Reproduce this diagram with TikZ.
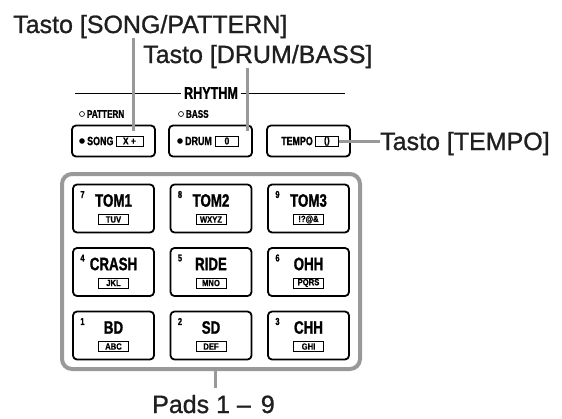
\documentclass[tikz,border=0pt]{standalone}
\usepackage{fontspec}
\setmainfont{Liberation Sans}
\newfontfamily\calloutfont[FakeBold=1]{Liberation Sans}
\newfontfamily\panelfont[FakeStretch=0.74,FakeBold=1.2]{Liberation Sans}
\newfontfamily\keyfont[FakeStretch=0.85,FakeBold=0.8]{Liberation Sans}
\usetikzlibrary{positioning}

\begin{document}
\begin{tikzpicture}[x=1pt,y=-1pt,every node/.style={inner sep=0pt},
  callout/.style={anchor=base west,text=black!88,font=\calloutfont\fontsize{25}{27}\selectfont},
  leader/.style={draw=black!40,line width=3pt},
  frame/.style={draw=black!40,line width=4pt,rounded corners=10pt},
  btn/.style={draw,line width=1.8pt,rounded corners=4pt,minimum width=83pt,minimum height=31pt},
  pad/.style={draw,line width=1.8pt,rounded corners=4pt,minimum width=81pt,minimum height=48pt},
  led/.style={circle,fill,minimum size=5.6pt},
  ledoff/.style={circle,draw,line width=.6pt,minimum size=5pt},
  btntext/.style={font=\panelfont\bfseries\fontsize{12}{12}\selectfont},
  smalltext/.style={font=\panelfont\bfseries\fontsize{11}{11}\selectfont},
  padname/.style={font=\panelfont\bfseries\fontsize{18}{18}\selectfont},
  padnum/.style={font=\panelfont\bfseries\fontsize{10}{10}\selectfont},
  keybox/.style={draw,line width=.8pt,minimum width=30pt,minimum height=10pt,font=\keyfont\bfseries\fontsize{9}{9}\selectfont},
  btnkey/.style={keybox,minimum width=23pt,font=\keyfont\bfseries\fontsize{10}{10}\selectfont}]
\useasboundingbox (0,0) rectangle (562,418);

% callouts
\node[callout] (lsong) at (13,33) {Tasto [SONG/PATTERN]};
\node[callout] (ldrum) at (143,63) {Tasto [DRUM/BASS]};
\node[callout] (ltempo) at (380,150) {Tasto [TEMPO]};
\node[callout] (lpads) at (152,413) {Pads 1 –\hspace{10pt}9};

% rhythm section
\coordinate (rl) at (75,93);
\coordinate (rr) at (345,93);
\node[font=\panelfont\bfseries\fontsize{17}{17}\selectfont,inner xsep=2.5pt] (rhythm) at (211,93) {RHYTHM};
\draw[line width=.9pt] (rl) -- (rhythm.west);
\draw[line width=.9pt] (rhythm.east) -- (rr);
\node[ledoff] (patled) at (82,114) {};
\node[smalltext,right=2pt of patled] (pattxt) {PATTERN};
\node[ledoff] (bassled) at (181,114) {};
\node[smalltext,right=2pt of bassled] (basstxt) {BASS};

% buttons
\node[btn] (bsong) at (113.5,141) {};
\node[btn] (bdrum) at (210.5,141) {};
\node[btn] (btempo) at (308.5,141) {};
\node[led] (songled) at (82,141) {};
\node[btntext,right=2pt of songled] (songtxt) {SONG};
\node[btnkey,minimum width=27pt,right=2pt of songtxt] (ksong) {X +};
\node[led] (drumled) at (180,141) {};
\node[btntext,right=2pt of drumled] (drumtxt) {DRUM};
\node[btnkey,right=3pt of drumtxt] (kdrum) {0};
\node[btntext] (tempotxt) at (297,141) {TEMPO};
\node[btnkey,right=2pt of tempotxt] (ktempo) {()};

% pads
\draw[frame] (62,174) rectangle (360,369);
\coordinate (padbot) at (215,369);

\node[pad] (p7) at (113.5,208.5) {};
\node[padnum] (p7num) at ([xshift=-31pt,yshift=14pt]p7.center) {7};
\node[padname] (p7name) at ([yshift=8pt]p7.center) {TOM1};
\node[keybox] (p7key) at ([yshift=-11pt]p7.center) {TUV};

\node[pad] (p8) at (211,208.5) {};
\node[padnum] (p8num) at ([xshift=-31pt,yshift=14pt]p8.center) {8};
\node[padname] (p8name) at ([yshift=8pt]p8.center) {TOM2};
\node[keybox] (p8key) at ([yshift=-11pt]p8.center) {WXYZ};

\node[pad] (p9) at (308.5,208.5) {};
\node[padnum] (p9num) at ([xshift=-31pt,yshift=14pt]p9.center) {9};
\node[padname] (p9name) at ([yshift=8pt]p9.center) {TOM3};
\node[keybox] (p9key) at ([yshift=-11pt]p9.center) {!?@\&};

\node[pad] (p4) at (113.5,272) {};
\node[padnum] (p4num) at ([xshift=-31pt,yshift=14pt]p4.center) {4};
\node[padname] (p4name) at ([yshift=8pt]p4.center) {CRASH};
\node[keybox] (p4key) at ([yshift=-11pt]p4.center) {JKL};

\node[pad] (p5) at (211,272) {};
\node[padnum] (p5num) at ([xshift=-31pt,yshift=14pt]p5.center) {5};
\node[padname] (p5name) at ([yshift=8pt]p5.center) {RIDE};
\node[keybox] (p5key) at ([yshift=-11pt]p5.center) {MNO};

\node[pad] (p6) at (308.5,272) {};
\node[padnum] (p6num) at ([xshift=-31pt,yshift=14pt]p6.center) {6};
\node[padname] (p6name) at ([yshift=8pt]p6.center) {OHH};
\node[keybox] (p6key) at ([yshift=-11pt]p6.center) {PQRS};

\node[pad] (p1) at (113.5,335.5) {};
\node[padnum] (p1num) at ([xshift=-31pt,yshift=14pt]p1.center) {1};
\node[padname] (p1name) at ([yshift=8pt]p1.center) {BD};
\node[keybox] (p1key) at ([yshift=-11pt]p1.center) {ABC};

\node[pad] (p2) at (211,335.5) {};
\node[padnum] (p2num) at ([xshift=-31pt,yshift=14pt]p2.center) {2};
\node[padname] (p2name) at ([yshift=8pt]p2.center) {SD};
\node[keybox] (p2key) at ([yshift=-11pt]p2.center) {DEF};

\node[pad] (p3) at (308.5,335.5) {};
\node[padnum] (p3num) at ([xshift=-31pt,yshift=14pt]p3.center) {3};
\node[padname] (p3name) at ([yshift=8pt]p3.center) {CHH};
\node[keybox] (p3key) at ([yshift=-11pt]p3.center) {GHI};

% leaders
\coordinate (songtip) at (133,131);
\coordinate (drumtip) at (247,131);
\draw[leader] (songtip |- lsong.south) -- (songtip);
\draw[leader] (drumtip |- ldrum.south) -- (drumtip);
\draw[leader] (ktempo.east) -- (ktempo.east -| ltempo.west);
\draw[leader,shorten >=7pt] (padbot) -- (padbot |- lpads.north);
\end{tikzpicture}
\end{document}
